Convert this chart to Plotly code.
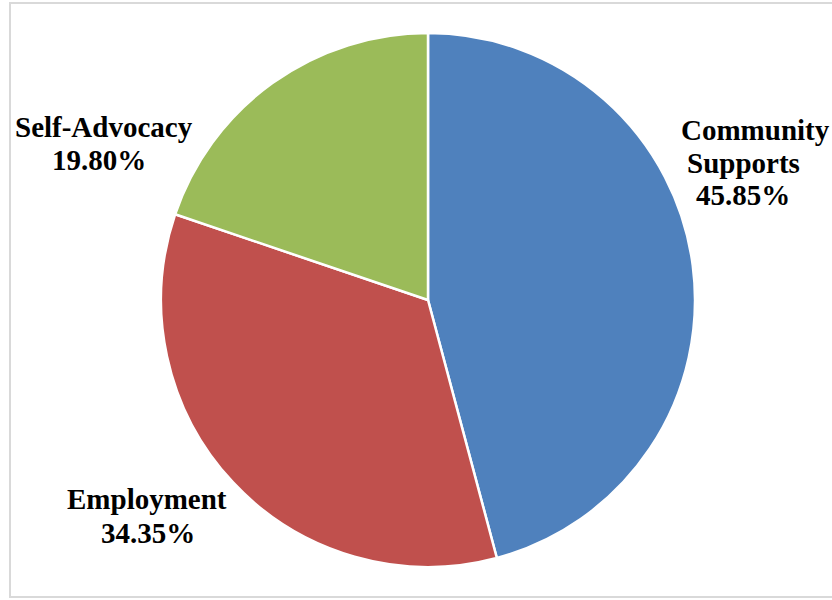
import plotly.graph_objects as go

categories = ["Community Supports", "Employment", "Self-Advocacy"]
values = [45.85, 34.35, 19.80]
colors = ["#4F81BD", "#C0504D", "#9BBB59"]

W, H = 832, 600
cx, cy, r = 428, 300, 267

fig = go.Figure(go.Pie(
    labels=categories,
    values=values,
    sort=False,
    direction="clockwise",
    rotation=0,
    marker=dict(colors=colors, line=dict(color="white", width=2.5)),
    textinfo="none",
    hoverinfo="label+percent",
    showlegend=False,
    domain=dict(x=[(cx - r) / W, (cx + r) / W], y=[(H - cy - r) / H, (H - cy + r) / H]),
))

font = dict(family="Liberation Serif", size=29, color="black")

def px_ann(text, x, y, xanchor="center"):
    fig.add_annotation(text=f"<b>{text}</b>", x=x / W, y=1 - y / H, xref="paper", yref="paper",
                       xanchor=xanchor, yanchor="middle", showarrow=False, font=font)

def pct(v):
    return f"{v:.2f}%"

# Self-Advocacy
px_ann(categories[2], 104, 127)
px_ann(pct(values[2]), 99, 160)
# Employment
px_ann(categories[1], 147, 499)
px_ann(pct(values[1]), 148, 533)
# Community Supports
px_ann("Community", 679, 130, "left")
px_ann("Supports", 685, 163, "left")
px_ann(pct(values[0]), 694, 195, "left")

fig.add_shape(type="rect", xref="paper", yref="paper", x0=10 / W, x1=1.05, y0=1 - 597 / H, y1=1 - 3 / H,
              line=dict(color="#D9D9D9", width=2), layer="below")

fig.update_layout(width=W, height=H, margin=dict(l=0, r=0, t=0, b=0),
                  paper_bgcolor="white", plot_bgcolor="white")

fig.write_html("out.html", config={"displayModeBar": False},
               post_script="document.body.style.margin='0';document.body.style.overflow='hidden';")
